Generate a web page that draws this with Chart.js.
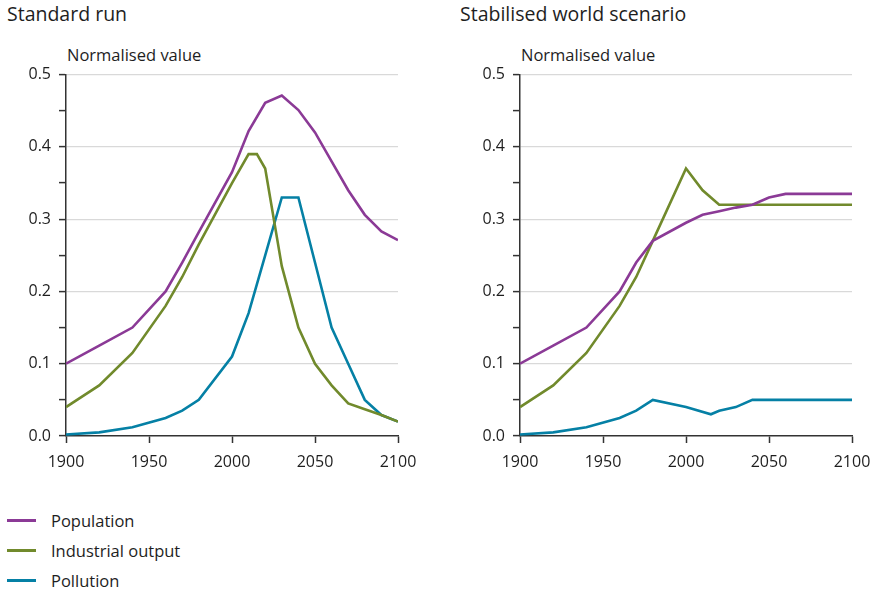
<!DOCTYPE html>
<html>
<head>
<meta charset="utf-8">
<script src="https://cdn.jsdelivr.net/npm/chart.js@4/dist/chart.umd.min.js"></script>
<style>
  html, body { margin: 0; padding: 0; background: #fff; }
  body { width: 870px; height: 594px; position: relative; overflow: hidden; font-family: "Open Sans", "DejaVu Sans", sans-serif; color: #1e1e1e; }
  .title { position: absolute; top: 0px; font-size: 19.5px; }
  .ylab { position: absolute; top: 43px; font-size: 16.5px; }
  .wrap { position: absolute; top: 57px; height: 420px; }
  .legend { position: absolute; left: 7px; top: 507px; font-size: 16.5px; }
  .legend div { height: 30px; line-height: 27px; position: relative; padding-left: 44px; }
  .legend span { position: absolute; left: 0; top: 12px; width: 29px; height: 3px; }
</style>
</head>
<body>
<div class="title" style="left:7px">Standard run</div>
<div class="title" style="left:460px">Stabilised world scenario</div>
<div class="ylab" style="left:67px">Normalised value</div>
<div class="ylab" style="left:521px">Normalised value</div>
<div class="wrap" style="left:0;width:430px"><canvas id="c1" width="430" height="420"></canvas></div>
<div class="wrap" style="left:454px;width:430px"><canvas id="c2" width="430" height="420"></canvas></div>
<div class="legend">
  <div><span style="background:#8b3a96"></span>Population</div>
  <div><span style="background:#718a2c"></span>Industrial output</div>
  <div><span style="background:#0580a5"></span>Pollution</div>
</div>
<script>
// ---- Data ----
const seriesNames = ["Population", "Industrial output", "Pollution"];
const seriesColors = ["#8b3a96", "#718a2c", "#0580a5"];

// Standard run
const stdPopYears = [1900, 1920, 1940, 1960, 1970, 1980, 2000, 2010, 2020, 2030, 2040, 2050, 2060, 2070, 2080, 2090, 2100];
const stdPopValues = [0.10, 0.125, 0.15, 0.20, 0.24, 0.282, 0.365, 0.422, 0.461, 0.471, 0.451, 0.42, 0.38, 0.34, 0.306, 0.283, 0.271];
const stdIndYears = [1900, 1920, 1940, 1960, 1970, 1980, 2000, 2010, 2015, 2020, 2030, 2040, 2050, 2060, 2070, 2080, 2090, 2100];
const stdIndValues = [0.04, 0.07, 0.115, 0.18, 0.22, 0.265, 0.35, 0.39, 0.39, 0.37, 0.235, 0.15, 0.10, 0.07, 0.045, 0.037, 0.029, 0.02];
const stdPolYears = [1900, 1920, 1940, 1960, 1970, 1980, 2000, 2010, 2020, 2030, 2040, 2050, 2060, 2070, 2080, 2090, 2100];
const stdPolValues = [0.002, 0.005, 0.012, 0.025, 0.035, 0.05, 0.11, 0.17, 0.25, 0.33, 0.33, 0.24, 0.15, 0.10, 0.05, 0.029, 0.02];

// Stabilised world scenario
const stbPopYears = [1900, 1920, 1940, 1960, 1970, 1980, 2000, 2010, 2020, 2030, 2040, 2050, 2060, 2100];
const stbPopValues = [0.10, 0.125, 0.15, 0.20, 0.24, 0.27, 0.295, 0.306, 0.311, 0.316, 0.32, 0.33, 0.335, 0.335];
const stbIndYears = [1900, 1920, 1940, 1960, 1970, 1980, 2000, 2010, 2020, 2100];
const stbIndValues = [0.04, 0.07, 0.115, 0.18, 0.22, 0.27, 0.37, 0.34, 0.32, 0.32];
const stbPolYears = [1900, 1920, 1940, 1960, 1970, 1980, 2000, 2015, 2020, 2030, 2040, 2100];
const stbPolValues = [0.002, 0.005, 0.012, 0.025, 0.035, 0.05, 0.04, 0.03, 0.035, 0.04, 0.05, 0.05];

const xTicks = [1900, 1950, 2000, 2050, 2100];
const yLabels = ["0.0", "0.1", "0.2", "0.3", "0.4", "0.5"];

function pts(years, vals) { return years.map((y, i) => ({ x: y, y: vals[i] })); }

function makeChart(id, sets, rightPad) {
  const datasets = sets.map((s, i) => ({
    label: seriesNames[i],
    data: pts(s[0], s[1]),
    borderColor: seriesColors[i],
    backgroundColor: seriesColors[i],
    borderWidth: 2.6,
    pointRadius: 0,
    tension: 0,
    fill: false
  }));
  const axisColor = "#333";
  const font = { family: "'Open Sans', 'DejaVu Sans', sans-serif", size: 16 };
  return new Chart(document.getElementById(id), {
    type: "line",
    data: { datasets },
    options: {
      responsive: false,
      animation: false,
      layout: { padding: { top: 11, right: rightPad, left: 0, bottom: 0 } },
      plugins: { legend: { display: false }, tooltip: { enabled: false } },
      scales: {
        x: {
          type: "linear",
          min: 1900, max: 2100,
          afterBuildTicks: (sc) => { sc.ticks = xTicks.map(v => ({ value: v })); },
          ticks: { color: "#1e1e1e", font, padding: 10, maxRotation: 0, callback: (v) => String(v) },
          grid: { drawOnChartArea: false, drawTicks: true, tickLength: 7, tickColor: axisColor, tickWidth: 1.5 },
          border: { display: true, color: axisColor, width: 1.5 },
          afterFit: (sc) => { sc.height = 41; }
        },
        y: {
          min: 0, max: 0.5,
          ticks: {
            stepSize: 0.05, color: "#1e1e1e", font, padding: 8,
            callback: (v) => {
              const k = Math.round(v * 100);
              return k % 10 === 0 ? yLabels[k / 10] : "";
            }
          },
          grid: {
            drawTicks: true, tickLength: 7, tickColor: axisColor, tickWidth: 1.5,
            color: (ctx) => {
              const k = Math.round(ctx.tick.value * 100);
              return (k % 10 === 0 && k !== 0) ? "#d9d9d9" : "rgba(0,0,0,0)";
            },
            lineWidth: 1.2
          },
          border: { display: true, color: axisColor, width: 1.5 },
          afterFit: (sc) => { sc.width = 66; }
        }
      }
    }
  });
}

makeChart("c1", [[stdPopYears, stdPopValues], [stdIndYears, stdIndValues], [stdPolYears, stdPolValues]], 32);
makeChart("c2", [[stbPopYears, stbPopValues], [stbIndYears, stbIndValues], [stbPolYears, stbPolValues]], 32);
</script>
</body>
</html>
